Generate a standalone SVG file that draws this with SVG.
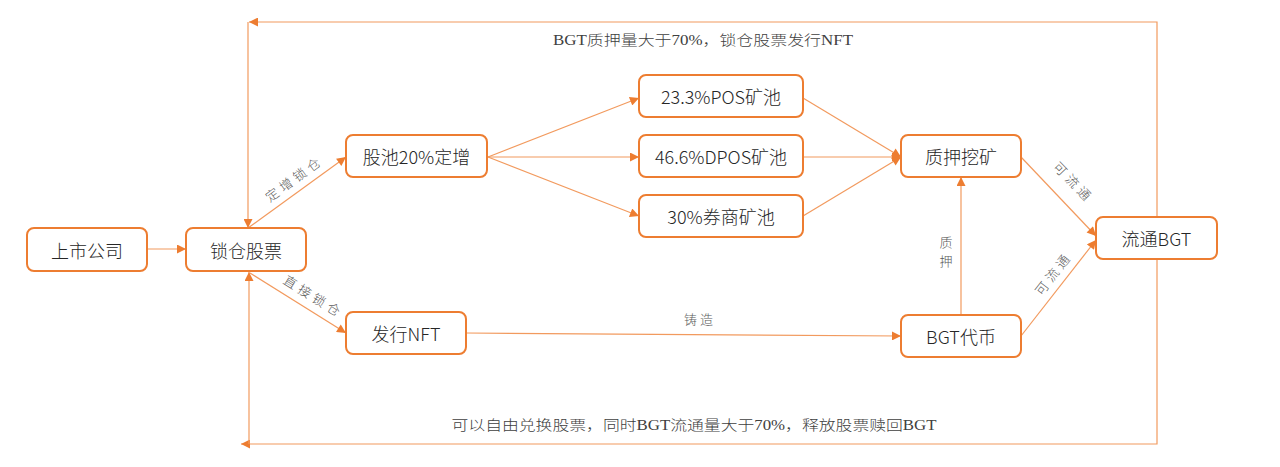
<svg xmlns="http://www.w3.org/2000/svg" width="1280" height="467" viewBox="0 0 1280 467">
<defs>
<marker id="ah" viewBox="0 0 10 10" refX="10" refY="5" markerWidth="10" markerHeight="9" markerUnits="userSpaceOnUse" orient="auto">
<path d="M0,0 L10,5 L0,10 z" fill="#ED7D31"/>
</marker>
<style>
.box{fill:#fff;stroke:#ED7D31;stroke-width:2}
.nt{font-family:"Noto Sans CJK SC","Noto Sans",sans-serif;font-size:18px;fill:#262626;text-anchor:middle;dominant-baseline:central;font-weight:300}
.ln{fill:none;stroke:#F29A5E;stroke-width:1.2}
.el{font-family:"Noto Sans CJK SC",sans-serif;font-size:13px;fill:#595959;text-anchor:middle;dominant-baseline:central;letter-spacing:4px;font-weight:300}
.lp{font-family:"Liberation Serif","Noto Sans CJK SC",serif;font-size:14px;fill:#404040;text-anchor:middle;font-weight:300}
</style>
</defs>
<rect width="1280" height="467" fill="#fff"/>
<g id="connectors">
<path class="ln" d="M1157,217 V22 H249" marker-end="url(#ah)"/>
<path class="ln" d="M248,22 V228" marker-end="url(#ah)"/>
<path class="ln" d="M1157,259 V444 H241" marker-end="url(#ah)"/>
<path class="ln" d="M249,444 V272" marker-end="url(#ah)"/>
<path class="ln" d="M147,249 H186" marker-end="url(#ah)"/>
<path class="ln" d="M248,228 L346,157" marker-end="url(#ah)"/>
<path class="ln" d="M250,273 L346,333" marker-end="url(#ah)"/>
<path class="ln" d="M488,157 L639,98" marker-end="url(#ah)"/>
<path class="ln" d="M488,157 L639,157" marker-end="url(#ah)"/>
<path class="ln" d="M488,157 L639,216" marker-end="url(#ah)"/>
<path class="ln" d="M803,98 L901,157" marker-end="url(#ah)"/>
<path class="ln" d="M803,157 L901,157" marker-end="url(#ah)"/>
<path class="ln" d="M803,216 L901,157" marker-end="url(#ah)"/>
<path class="ln" d="M466,333 L901,336" marker-end="url(#ah)"/>
<path class="ln" d="M961,315 L961,177" marker-end="url(#ah)"/>
<path class="ln" d="M1021,157 L1096,236" marker-end="url(#ah)"/>
<path class="ln" d="M1021,336 L1096,240" marker-end="url(#ah)"/>
<text class="el" transform="translate(294,178) rotate(-36)">定增锁仓</text>
<text class="el" transform="translate(314,296) rotate(32)">直接锁仓</text>
<text class="el" x="700" y="318" style="letter-spacing:3px">铸造</text>
<text class="el" x="948" y="241">质</text>
<text class="el" x="948" y="260">押</text>
<text class="el" transform="translate(1074,182) rotate(46)">可流通</text>
<text class="el" transform="translate(1053,273) rotate(-52)">可流通</text>
<text class="lp" x="703" y="45" textLength="300" lengthAdjust="spacingAndGlyphs">BGT质押量大于70%，锁仓股票发行NFT</text>
<text class="lp" x="694" y="430" textLength="485" lengthAdjust="spacingAndGlyphs">可以自由兑换股票，同时BGT流通量大于70%，释放股票赎回BGT</text>
</g>
<g id="n1"><rect class="box" x="27" y="228" width="120" height="43" rx="7"/><text class="nt" x="87" y="249.5">上市公司</text></g>
<g id="n2"><rect class="box" x="186" y="228" width="120" height="43" rx="7"/><text class="nt" x="246" y="249.5">锁仓股票</text></g>
<g id="n3"><rect class="box" x="346" y="135" width="141" height="42" rx="7"/><text class="nt" x="416.5" y="156">股池20%定增</text></g>
<g id="n4"><rect class="box" x="346" y="312" width="120" height="42" rx="7"/><text class="nt" x="406" y="333">发行NFT</text></g>
<g id="n5"><rect class="box" x="639" y="75" width="164" height="42" rx="7"/><text class="nt" x="721" y="96">23.3%POS矿池</text></g>
<g id="n6"><rect class="box" x="639" y="135" width="164" height="42" rx="7"/><text class="nt" x="721" y="156">46.6%DPOS矿池</text></g>
<g id="n7"><rect class="box" x="639" y="195" width="164" height="42" rx="7"/><text class="nt" x="721" y="216">30%券商矿池</text></g>
<g id="n8"><rect class="box" x="901" y="135" width="120" height="42" rx="7"/><text class="nt" x="961" y="156">质押挖矿</text></g>
<g id="n9"><rect class="box" x="1096" y="217" width="121" height="42" rx="7"/><text class="nt" x="1156.5" y="238">流通BGT</text></g>
<g id="n10"><rect class="box" x="901" y="315" width="120" height="42" rx="7"/><text class="nt" x="961" y="336">BGT代币</text></g>
</svg>
